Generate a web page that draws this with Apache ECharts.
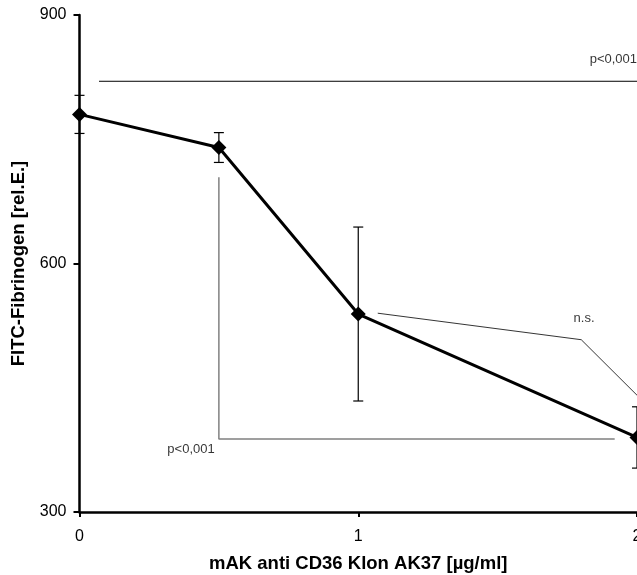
<!DOCTYPE html>
<html>
<head>
<meta charset="utf-8">
<script src="https://cdn.jsdelivr.net/npm/echarts@6/dist/echarts.min.js"></script>
<style>
  html, body { margin: 0; padding: 0; background: #fff; }
  #chart { width: 637px; height: 575px; }
</style>
</head>
<body>
<div id="chart"></div>
<script>
// Messwerte: Konzentration, Mittelwert, Fehlerbalken
var doses = [0, 0.5, 1, 2];
var means = [780, 740, 539, 390];
var errors = [23, 18, 105, 37];
var xTicks = [0, 1, 2];
var yTicks = [300, 600, 900];

// Signifikanz-Linien
var topLine = [[0.07, 820], [2, 820]];
var bracketLine = [[0.5, 704], [0.5, 388], [1.92, 388]];
var nsLine = [[1.07, 540], [1.8, 508], [2, 441]];
var notes = [
    { value: [2, 846], text: "p<0,001", align: "right" },
    { value: [0.4, 375], text: "p<0,001", align: "center" },
    { value: [1.81, 534], text: "n.s.", align: "center" }
];

(function () {
    var myChart = echarts.init(document.getElementById("chart"));
    var font = "Liberation Sans";

    var points = doses.map(function (d, i) { return [d, means[i]]; });
    var bars = doses.map(function (d, i) { return [d, means[i] - errors[i], means[i] + errors[i]]; });

    var option = {
        animation: false,
        textStyle: { fontFamily: font },
        grid: { left: 79.5, right: 0, top: 15, bottom: 63, outerBoundsMode: "none" },
        xAxis: {
            type: "value",
            min: 0,
            max: 2,
            interval: 1,
            name: "mAK anti CD36 Klon AK37 [µg/ml]",
            nameLocation: "middle",
            nameGap: 42,
            nameTextStyle: { color: "#000", fontSize: 18.5, fontWeight: "bold", fontFamily: font },
            axisLine: { lineStyle: { color: "#000", width: 2.5 } },
            axisTick: { length: 5, lineStyle: { color: "#000", width: 2 } },
            axisLabel: {
                color: "#000", fontSize: 16, margin: 17, fontFamily: font,
                customValues: xTicks
            },
            splitLine: { show: false }
        },
        yAxis: {
            type: "value",
            min: 300,
            max: 900,
            interval: 300,
            name: "FITC-Fibrinogen [rel.E.]",
            nameLocation: "middle",
            nameGap: 49,
            nameTextStyle: { color: "#000", fontSize: 18.5, fontWeight: "bold", fontFamily: font },
            axisLine: { lineStyle: { color: "#000", width: 2.5 } },
            axisTick: { length: 6, lineStyle: { color: "#000", width: 2 } },
            axisLabel: { color: "#000", fontSize: 16, margin: 13, fontFamily: font },
            splitLine: { show: false }
        },
        series: [
            {
                // Fehlerbalken
                type: "custom",
                clip: false,
                z: 3,
                data: bars,
                renderItem: function (params, api) {
                    var lo = api.coord([api.value(0), api.value(1)]);
                    var hi = api.coord([api.value(0), api.value(2)]);
                    var w = 5;
                    var st = { stroke: "#000", lineWidth: 1.2 };
                    return {
                        type: "group",
                        children: [
                            { type: "line", shape: { x1: lo[0], y1: lo[1], x2: hi[0], y2: hi[1] }, style: st },
                            { type: "line", shape: { x1: lo[0] - w, y1: lo[1], x2: lo[0] + w, y2: lo[1] }, style: st },
                            { type: "line", shape: { x1: hi[0] - w, y1: hi[1], x2: hi[0] + w, y2: hi[1] }, style: st }
                        ]
                    };
                }
            },
            {
                type: "line",
                data: topLine,
                symbol: "none",
                lineStyle: { color: "#000", width: 1 },
                z: 2
            },
            {
                type: "line",
                data: bracketLine,
                symbol: "none",
                lineStyle: { color: "#808080", width: 1.5 },
                z: 2
            },
            {
                type: "line",
                data: nsLine,
                symbol: "none",
                lineStyle: { color: "#000", width: 0.8 },
                z: 2
            },
            {
                // Mittelwerte
                type: "line",
                data: points,
                symbol: "diamond",
                symbolSize: 15,
                clip: false,
                lineStyle: { color: "#000", width: 3 },
                itemStyle: { color: "#000" },
                z: 5
            },
            {
                type: "scatter",
                symbolSize: 0,
                data: notes.map(function (n) {
                    return {
                        value: n.value,
                        label: {
                            show: true,
                            formatter: n.text,
                            position: [0, 0],
                            align: n.align,
                            verticalAlign: "middle",
                            color: "#000",
                            fontSize: 13,
                            fontFamily: font
                        }
                    };
                }),
                z: 6
            }
        ]
    };

    myChart.setOption(option);
    window.addEventListener("resize", function () {
        myChart.resize();
    });
})();
</script>
</body>
</html>
